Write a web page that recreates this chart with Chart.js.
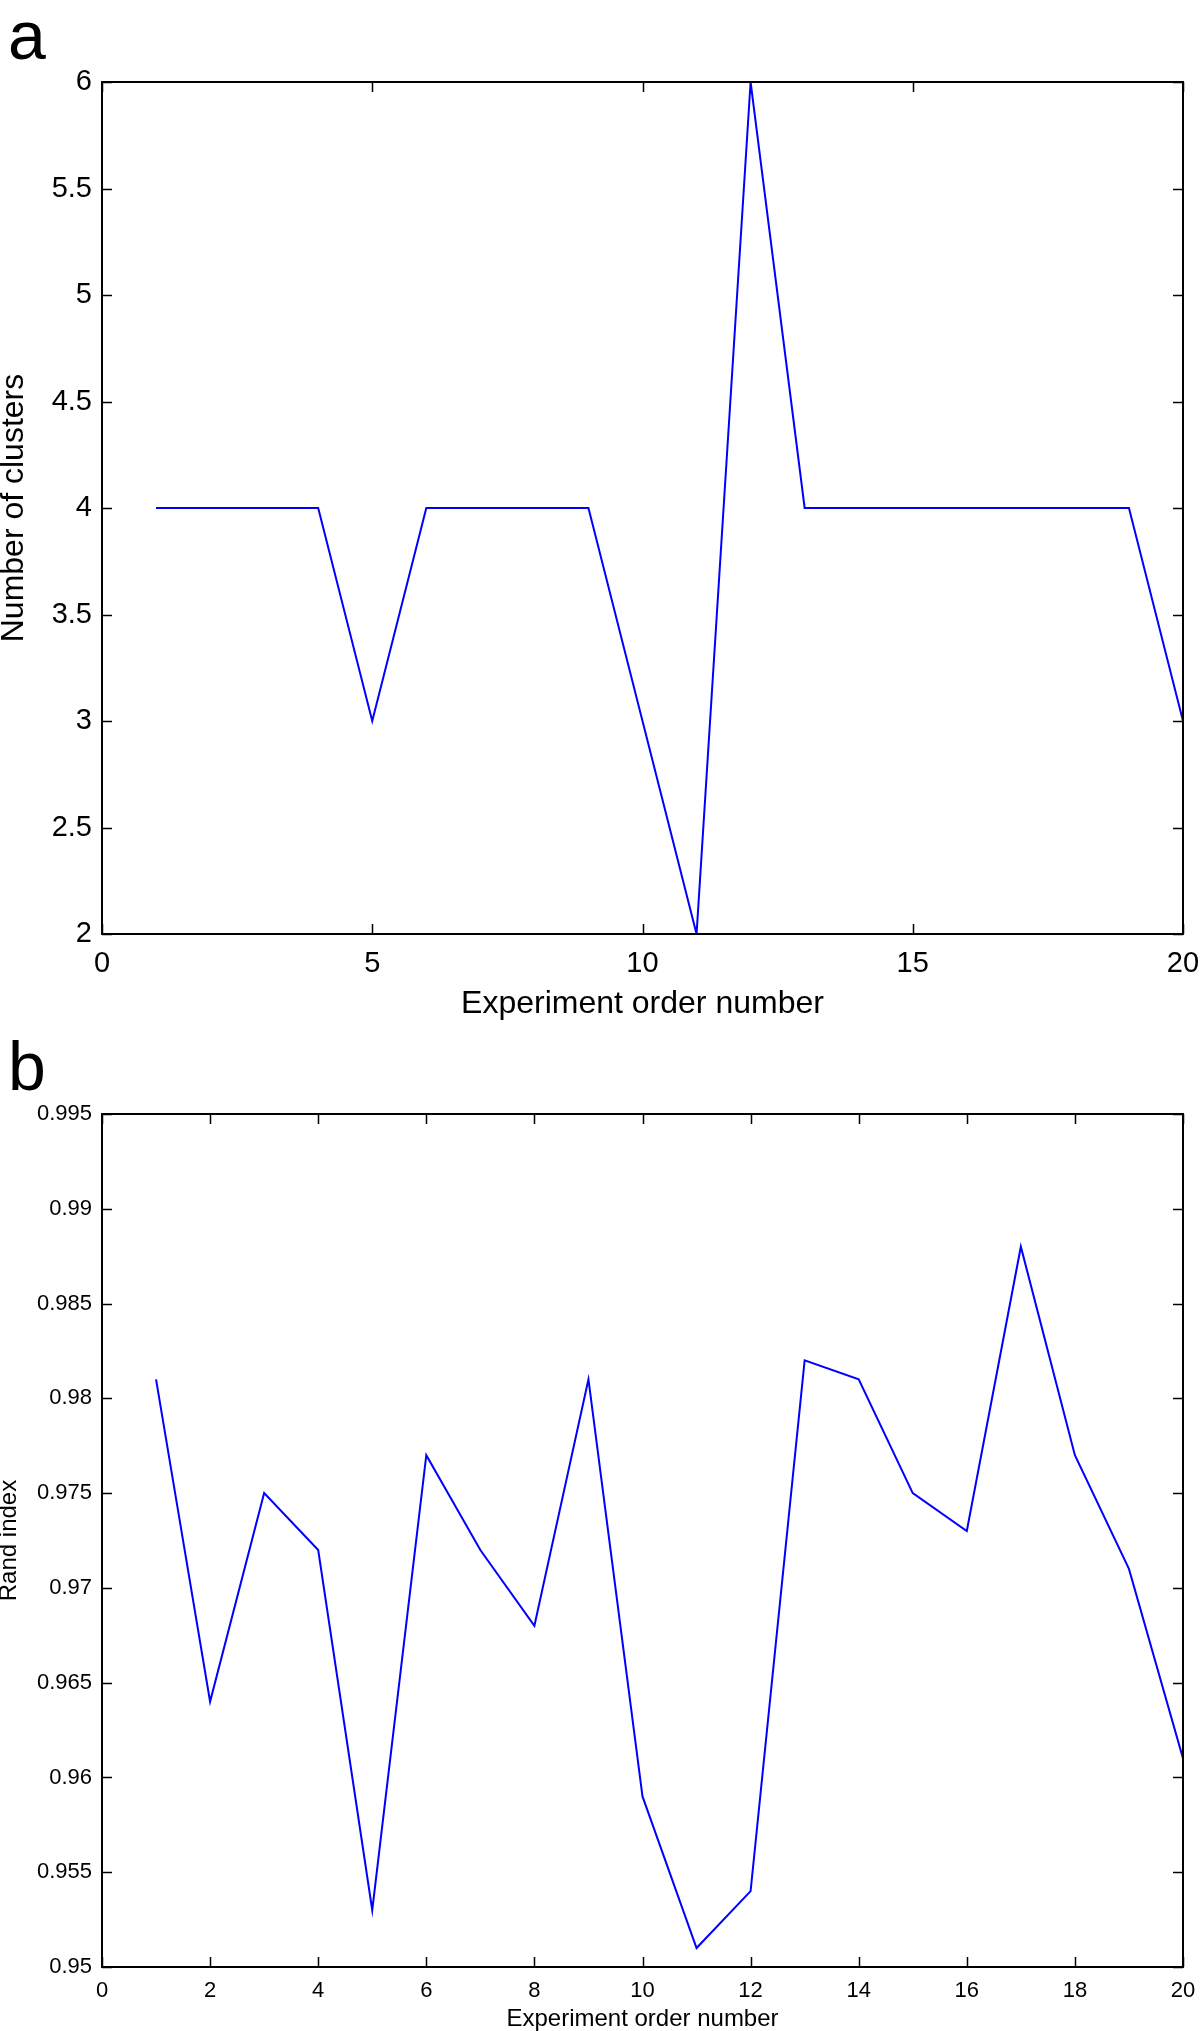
<!DOCTYPE html>
<html>
<head>
<meta charset="utf-8">
<script src="https://cdn.jsdelivr.net/npm/chart.js@4"></script>
<style>
  body { margin: 0; background: #fff; width: 1200px; height: 2031px; position: relative; overflow: hidden; }
  canvas { position: absolute; left: 0; display: block; }
  .lbl { position: absolute; left: 8px; font-family: "Liberation Sans", Arial, sans-serif; font-size: 68px; line-height: 1; color: #000; }
</style>
</head>
<body>
<div class="lbl" style="top:1px">a</div>
<div class="lbl" style="top:1032px">b</div>
<canvas id="chartA" width="1200" height="1020" style="top:0"></canvas>
<canvas id="chartB" width="1200" height="1001" style="top:1030px"></canvas>
<script>
// experiment order numbers
var experiments = [1, 2, 3, 4, 5, 6, 7, 8, 9, 10, 11, 12, 13, 14, 15, 16, 17, 18, 19, 20];
// (a) number of clusters found
var clusters = [4, 4, 4, 4, 3, 4, 4, 4, 4, 3, 2, 6, 4, 4, 4, 4, 4, 4, 4, 3];
// (b) rand index
var randIndex = [0.981, 0.964, 0.975, 0.972, 0.953, 0.977, 0.972, 0.968, 0.981, 0.959,
                 0.951, 0.954, 0.982, 0.981, 0.975, 0.973, 0.988, 0.977, 0.971, 0.961];

var FONT = "'Liberation Sans', Arial, Helvetica, sans-serif";

// box around the plot with inward ticks on all four sides
var boxTicks = {
  id: "boxTicks",
  afterDraw: function(chart) {
    var ctx = chart.ctx, a = chart.chartArea;
    var xs = chart.scales.x, ys = chart.scales.y;
    var len = 10;
    ctx.save();
    ctx.strokeStyle = "#000";
    ctx.lineWidth = 1.5;
    ctx.beginPath();
    xs.ticks.forEach(function(t) {
      var px = Math.round(xs.getPixelForValue(t.value)) + 0.5;
      ctx.moveTo(px, a.bottom); ctx.lineTo(px, a.bottom - len);
      ctx.moveTo(px, a.top); ctx.lineTo(px, a.top + len);
    });
    ys.ticks.forEach(function(t) {
      var py = Math.round(ys.getPixelForValue(t.value)) + 0.5;
      ctx.moveTo(a.left, py); ctx.lineTo(a.left + len, py);
      ctx.moveTo(a.right, py); ctx.lineTo(a.right - len, py);
    });
    ctx.stroke();
    ctx.lineWidth = 2;
    ctx.strokeRect(a.left, a.top, a.right - a.left, a.bottom - a.top);
    ctx.restore();
  }
};

function points(ys) {
  return experiments.map(function(x, i) { return { x: x, y: ys[i] }; });
}

function makeChart(id, data, opt) {
  return new Chart(document.getElementById(id), {
    type: "line",
    data: {
      datasets: [{
        data: points(data),
        borderColor: "#0000ff",
        borderWidth: 2,
        pointRadius: 0,
        tension: 0,
        fill: false
      }]
    },
    options: {
      responsive: false,
      animation: false,
      layout: { padding: { top: opt.top, right: 17, left: 0, bottom: 0 } },
      plugins: { legend: { display: false }, tooltip: { enabled: false } },
      scales: {
        x: {
          type: "linear",
          min: 0, max: 20,
          grid: { display: false, drawTicks: false },
          border: { display: false },
          afterFit: function(s) {
            s.height = opt.xh;
            s.paddingLeft = 0;
            s.paddingRight = 0;
          },
          ticks: {
            stepSize: opt.xstep,
            padding: opt.xpad,
            color: "#000",
            maxRotation: 0,
            font: { family: FONT, size: opt.tick }
          },
          title: {
            display: true,
            text: "Experiment order number",
            color: "#000",
            padding: 0,
            font: { family: FONT, size: opt.title, lineHeight: 1 }
          }
        },
        y: {
          min: opt.ymin, max: opt.ymax,
          grid: { display: false, drawTicks: false },
          border: { display: false },
          afterFit: function(s) {
            s.width = 102;
            s.paddingTop = 0;
            s.paddingBottom = 0;
          },
          ticks: {
            stepSize: opt.ystep,
            padding: 10,
            color: "#000",
            font: { family: FONT, size: opt.tick },
            callback: function(v) { return String(Number(v.toFixed(4))); }
          },
          title: {
            display: true,
            text: opt.ytitle,
            color: "#000",
            padding: { top: opt.ytpad, bottom: 0 },
            font: { family: FONT, size: opt.title, lineHeight: 1 }
          }
        }
      }
    },
    plugins: [boxTicks]
  });
}

makeChart("chartA", clusters, {
  top: 82, xh: 86, xstep: 5, xpad: 13, tick: 29, title: 32,
  ymin: 2, ymax: 6, ystep: 0.5, ytitle: "Number of clusters", ytpad: -2
});

makeChart("chartB", randIndex, {
  top: 84, xh: 64, xstep: 2, xpad: 11, tick: 22, title: 24,
  ymin: 0.95, ymax: 0.995, ystep: 0.005, ytitle: "Rand index", ytpad: -3
});
</script>
</body>
</html>
